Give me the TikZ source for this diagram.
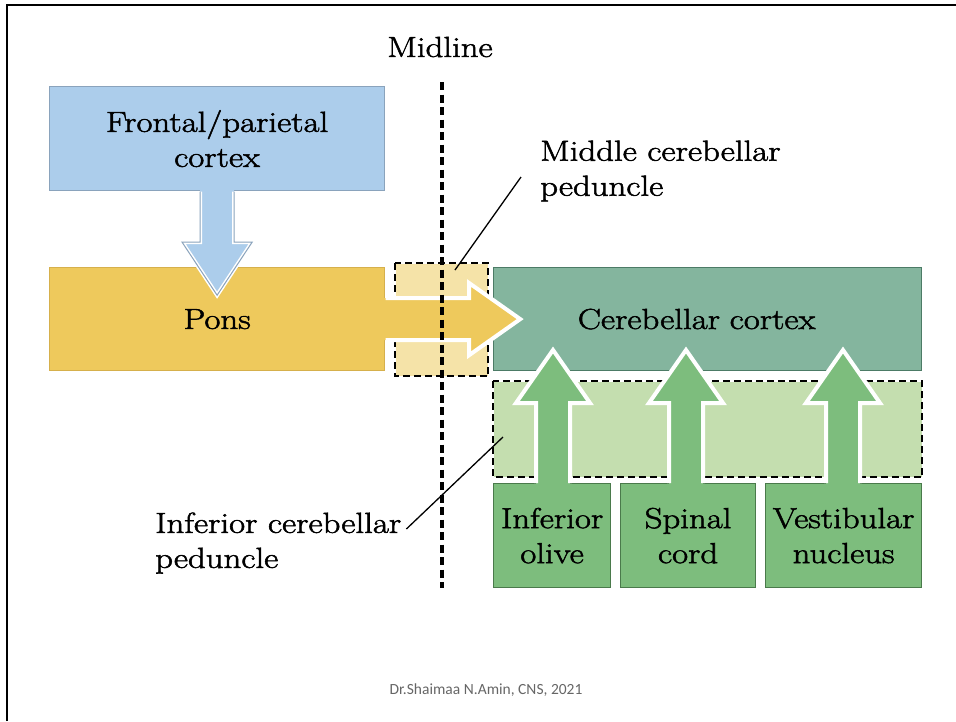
\documentclass[tikz,border=0pt]{standalone}
\usepackage{fontspec}
\newfontfamily\footfont{Carlito}
\newfontfamily\diafont{Latin Modern Roman}[FakeStretch=1.2, FakeBold=1.8]
\usetikzlibrary{calc}
\definecolor{bluefill}{HTML}{ACCDEB}
\definecolor{blueedge}{HTML}{8AA3BC}
\definecolor{yel}{HTML}{EEC95C}
\definecolor{yeledge}{HTML}{D6B04C}
\definecolor{lightyel}{HTML}{F5E3A8}
\definecolor{cteal}{HTML}{84B59E}
\definecolor{ctealedge}{HTML}{4C7B66}
\definecolor{lightgreen}{HTML}{C4DEAF}
\definecolor{grn}{HTML}{7DBD7D}
\definecolor{grnedge}{HTML}{4A7A4B}
\begin{document}
\begin{tikzpicture}[x=1pt,y=-1pt,
  lbl/.style={font=\diafont\fontsize{29}{35}\selectfont, align=center, inner sep=0pt},
  box/.style={line width=1.2pt, inner sep=0pt, anchor=north west, font=\diafont\fontsize{29}{35}\selectfont, align=center},
  dashbox/.style={draw=black, line width=1.8pt, dash pattern=on 7pt off 4pt},
  midline/.style={draw=black, line width=4pt, dash pattern=on 8pt off 4.5pt},
  leader/.style={draw=black, line width=1.3pt},
  outline/.style={draw=white, line width=4pt, line join=miter},
  garrow/.pic={
    \fill[grn] (-17,3) -- (-17,-80) -- (-37,-80) -- (0,-133) -- (37,-80) -- (17,-80) -- (17,3) -- cycle;
    \draw[outline] (-17,0) -- (-17,-80) -- (-37,-80) -- (0,-133) -- (37,-80) -- (17,-80) -- (17,0);
  }
]
\useasboundingbox (0,0) rectangle (956,721);
% frame
\draw[line width=2.5pt] (7,721) -- (7,5) -- (956,5);

% shaded peduncle regions
\node[box, fill=lightyel, minimum width=92pt, minimum height=112pt] (mcpbox) at (395,263) {};
\node[box, fill=lightgreen, minimum width=428pt, minimum height=95pt] (icpbox) at (493,381) {};

% main boxes
\node[box, fill=bluefill, draw=blueedge, minimum width=335pt, minimum height=104pt] (frontal) at (49,86) {Frontal/parietal\\cortex};
\node[box, fill=yel, draw=yeledge, minimum width=335pt, minimum height=103pt] (pons) at (49,267) {Pons};
\node[box, fill=cteal, draw=ctealedge, minimum width=428pt, minimum height=103pt, text width=410pt] (cortex) at (493,267) {\hspace*{-22pt}Cerebellar cortex};
\node[box, fill=grn, draw=grnedge, minimum width=117pt, minimum height=104pt] (olive) at (493,483) {Inferior\\olive};
\node[box, fill=grn, draw=grnedge, minimum width=135pt, minimum height=104pt] (spinal) at (620,483) {Spinal\\cord};
\node[box, fill=grn, draw=grnedge, minimum width=156pt, minimum height=104pt] (vest) at (765,483) {Vestibular\\nucleus};

% dashed borders
\draw[dashbox] (mcpbox.north west) rectangle (mcpbox.south east);
\draw[dashbox] (icpbox.north west) rectangle (icpbox.south east);

% blue arrow frontal -> pons
\begin{scope}[shift={(frontal.south)}]
  \fill[bluefill] (-17,-2) -- (-17,51) -- (-35,51) -- (0,104) -- (35,51) -- (17,51) -- (17,-2) -- cycle;
  \draw[draw=white, line width=4pt] (-17,0.5) -- (-17,51) -- (-35,51) -- (0,104) -- (35,51) -- (17,51) -- (17,0.5);
  \draw[draw=blueedge, line width=1pt] (-17,0.5) -- (-17,51) -- (-35,51) -- (0,104) -- (35,51) -- (17,51) -- (17,0.5);
\end{scope}

% yellow arrow pons -> cortex
\begin{scope}[shift={(pons.east)}]
  \fill[yel] (-2,-21) -- (84,-21) -- (84,-36) -- (135,0) -- (84,36) -- (84,21) -- (-2,21) -- cycle;
  \draw[outline] (0.5,-21) -- (84,-21) -- (84,-36) -- (135,0) -- (84,36) -- (84,21) -- (0.5,21);
\end{scope}

% green arrows to cortex
\coordinate (g1) at (553,483);
\coordinate (g2) at (686,483);
\coordinate (g3) at (843,483);
\pic at (g1) {garrow};
\pic at (g2) {garrow};
\pic at (g3) {garrow};

% midline
\node[lbl] (midlbl) at (440,47) {Midline};
\coordinate (midtop) at (442,82);
\coordinate (midbot) at (442,588);
\draw[midline] (midtop) -- (midbot);

% labels and leaders
\node[lbl, align=left, anchor=west] (mcplbl) at (540,171) {Middle cerebellar\\peduncle};
\node[lbl, align=left, anchor=west] (icplbl) at (155,543) {Inferior cerebellar\\peduncle};
\coordinate (mcpend) at (455,270);
\coordinate (icpend) at (503,437);
\draw[leader] ($(mcplbl.west)+(-19,6)$) -- (mcpend);
\draw[leader] ($(icplbl.east)+(5,-14)$) -- (icpend);

% footer
\node[font=\footfont\fontsize{15.5}{18}\selectfont, text=black!60] (foot) at (486,690) {Dr.Shaimaa N.Amin, CNS, 2021};
\end{tikzpicture}
\end{document}
